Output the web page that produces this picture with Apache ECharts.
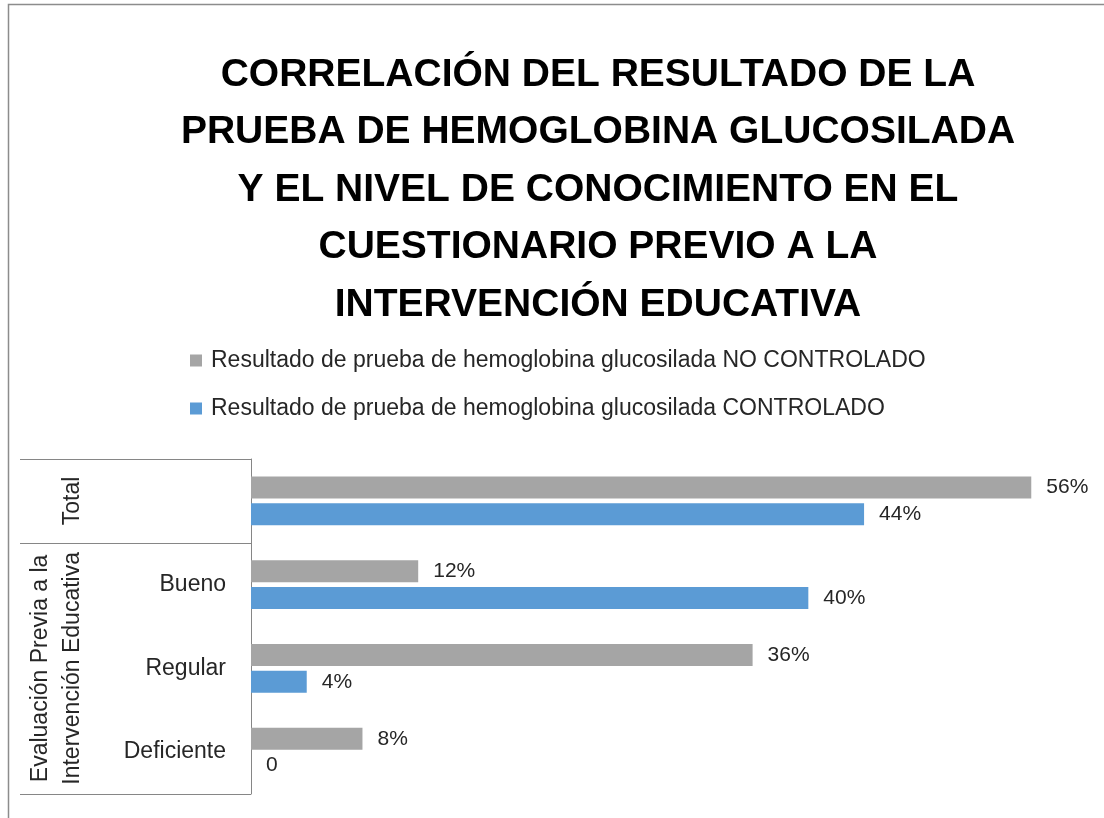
<!DOCTYPE html>
<html>
<head>
<meta charset="utf-8">
<script src="https://cdn.jsdelivr.net/npm/echarts@6/dist/echarts.min.js"></script>
<style>
  html, body { margin: 0; padding: 0; background: #fff; }
  #chart { width: 1104px; height: 818px; }
</style>
</head>
<body>
<div id="chart"></div>
<script>
// data
const categories = ['Total', 'Bueno', 'Regular', 'Deficiente'];
const noControlado = [56, 12, 36, 8];
const controlado = [44, 40, 4, 0];
const seriesNames = [
  'Resultado de prueba de hemoglobina glucosilada NO CONTROLADO',
  'Resultado de prueba de hemoglobina glucosilada CONTROLADO'
];
// outer level of the category axis
const groupLabels = [
  { text: 'Total', from: 0, to: 0 },
  { text: 'Evaluación Previa a la\nIntervención Educativa', from: 1, to: 3 }
];
const titleText = 'CORRELACIÓN DEL RESULTADO DE LA\nPRUEBA DE HEMOGLOBINA GLUCOSILADA\nY EL NIVEL DE CONOCIMIENTO EN EL\nCUESTIONARIO PREVIO A LA\nINTERVENCIÓN EDUCATIVA';

const font = '"Liberation Sans", Arial, sans-serif';
const textColor = '#262626';

let chart = echarts.init(document.getElementById('chart'));

function pctLabel(p) {
  return p.value === 0 ? '0' : p.value + '%';
}

chart.setOption({
  animation: false,
  title: {
    text: titleText,
    left: 598,
    top: 46,
    textAlign: 'center',
    padding: 0,
    textStyle: {
      fontFamily: font,
      fontSize: 39,
      fontWeight: 'bold',
      color: '#000',
      lineHeight: 57.5
    }
  },
  legend: {
    orient: 'vertical',
    left: 190,
    top: 349,
    padding: 0,
    itemWidth: 12,
    itemHeight: 12,
    itemGap: 25,
    icon: 'rect',
    data: seriesNames,
    textStyle: {
      fontFamily: font,
      fontSize: 23,
      color: textColor,
      padding: [0, 0, 0, 4]
    }
  },
  grid: {
    left: 251,
    right: 17,
    top: 459,
    bottom: 24,
    containLabel: false
  },
  xAxis: {
    type: 'value',
    min: 0,
    max: 60,
    show: false
  },
  yAxis: {
    type: 'category',
    inverse: true,
    data: categories,
    axisLine: { lineStyle: { color: '#868686', width: 1 } },
    axisTick: { show: false },
    axisLabel: {
      margin: 25,
      fontFamily: font,
      fontSize: 23,
      color: textColor,
      formatter: function (v) { return v === 'Total' ? '' : v; }
    }
  },
  series: [
    {
      name: seriesNames[0],
      type: 'bar',
      data: noControlado,
      barWidth: 22,
      barGap: '22%',
      itemStyle: { color: '#A5A5A5' },
      label: {
        show: true,
        position: 'right',
        distance: 15,
        fontFamily: font,
        fontSize: 21,
        color: textColor,
        formatter: pctLabel
      }
    },
    {
      name: seriesNames[1],
      type: 'bar',
      data: controlado,
      barWidth: 22,
      itemStyle: { color: '#5B9BD5' },
      label: {
        show: true,
        position: 'right',
        distance: 15,
        fontFamily: font,
        fontSize: 21,
        color: textColor,
        formatter: pctLabel
      }
    }
  ]
});

// table-like outer labels and separators, placed from the axis scale
const c0 = chart.convertToPixel({ yAxisIndex: 0 }, categories[0]);
const c1 = chart.convertToPixel({ yAxisIndex: 0 }, categories[1]);
const step = c1 - c0;
const axisX = chart.convertToPixel({ xAxisIndex: 0 }, 0);
const lineStyle = { stroke: '#868686', lineWidth: 1 };

let graphics = [
  {
    type: 'rect',
    shape: { x: 8.5, y: 4.5, width: 1300, height: 1000 },
    style: { fill: 'none', stroke: '#8c8c8c', lineWidth: 1.5 },
    silent: true
  }
];
let bounds = new Set();
groupLabels.forEach(function (g) {
  const yTop = c0 + step * g.from - step / 2;
  const yBot = c0 + step * g.to + step / 2;
  bounds.add(yTop);
  bounds.add(yBot);
  const lines = g.text.split('\n').length;
  graphics.push({
    type: 'text',
    x: lines > 1 ? 57 : 73,
    y: (yTop + yBot) / 2,
    rotation: Math.PI / 2,
    style: {
      text: g.text,
      fontFamily: font,
      fontSize: 23,
      fill: textColor,
      lineHeight: 32,
      align: 'center',
      verticalAlign: 'middle'
    }
  });
});
bounds.forEach(function (y) {
  graphics.push({
    type: 'line',
    shape: { x1: 20, y1: Math.round(y) + 0.5, x2: axisX, y2: Math.round(y) + 0.5 },
    style: lineStyle,
    silent: true
  });
});

chart.setOption({ graphic: graphics });
</script>
</body>
</html>
